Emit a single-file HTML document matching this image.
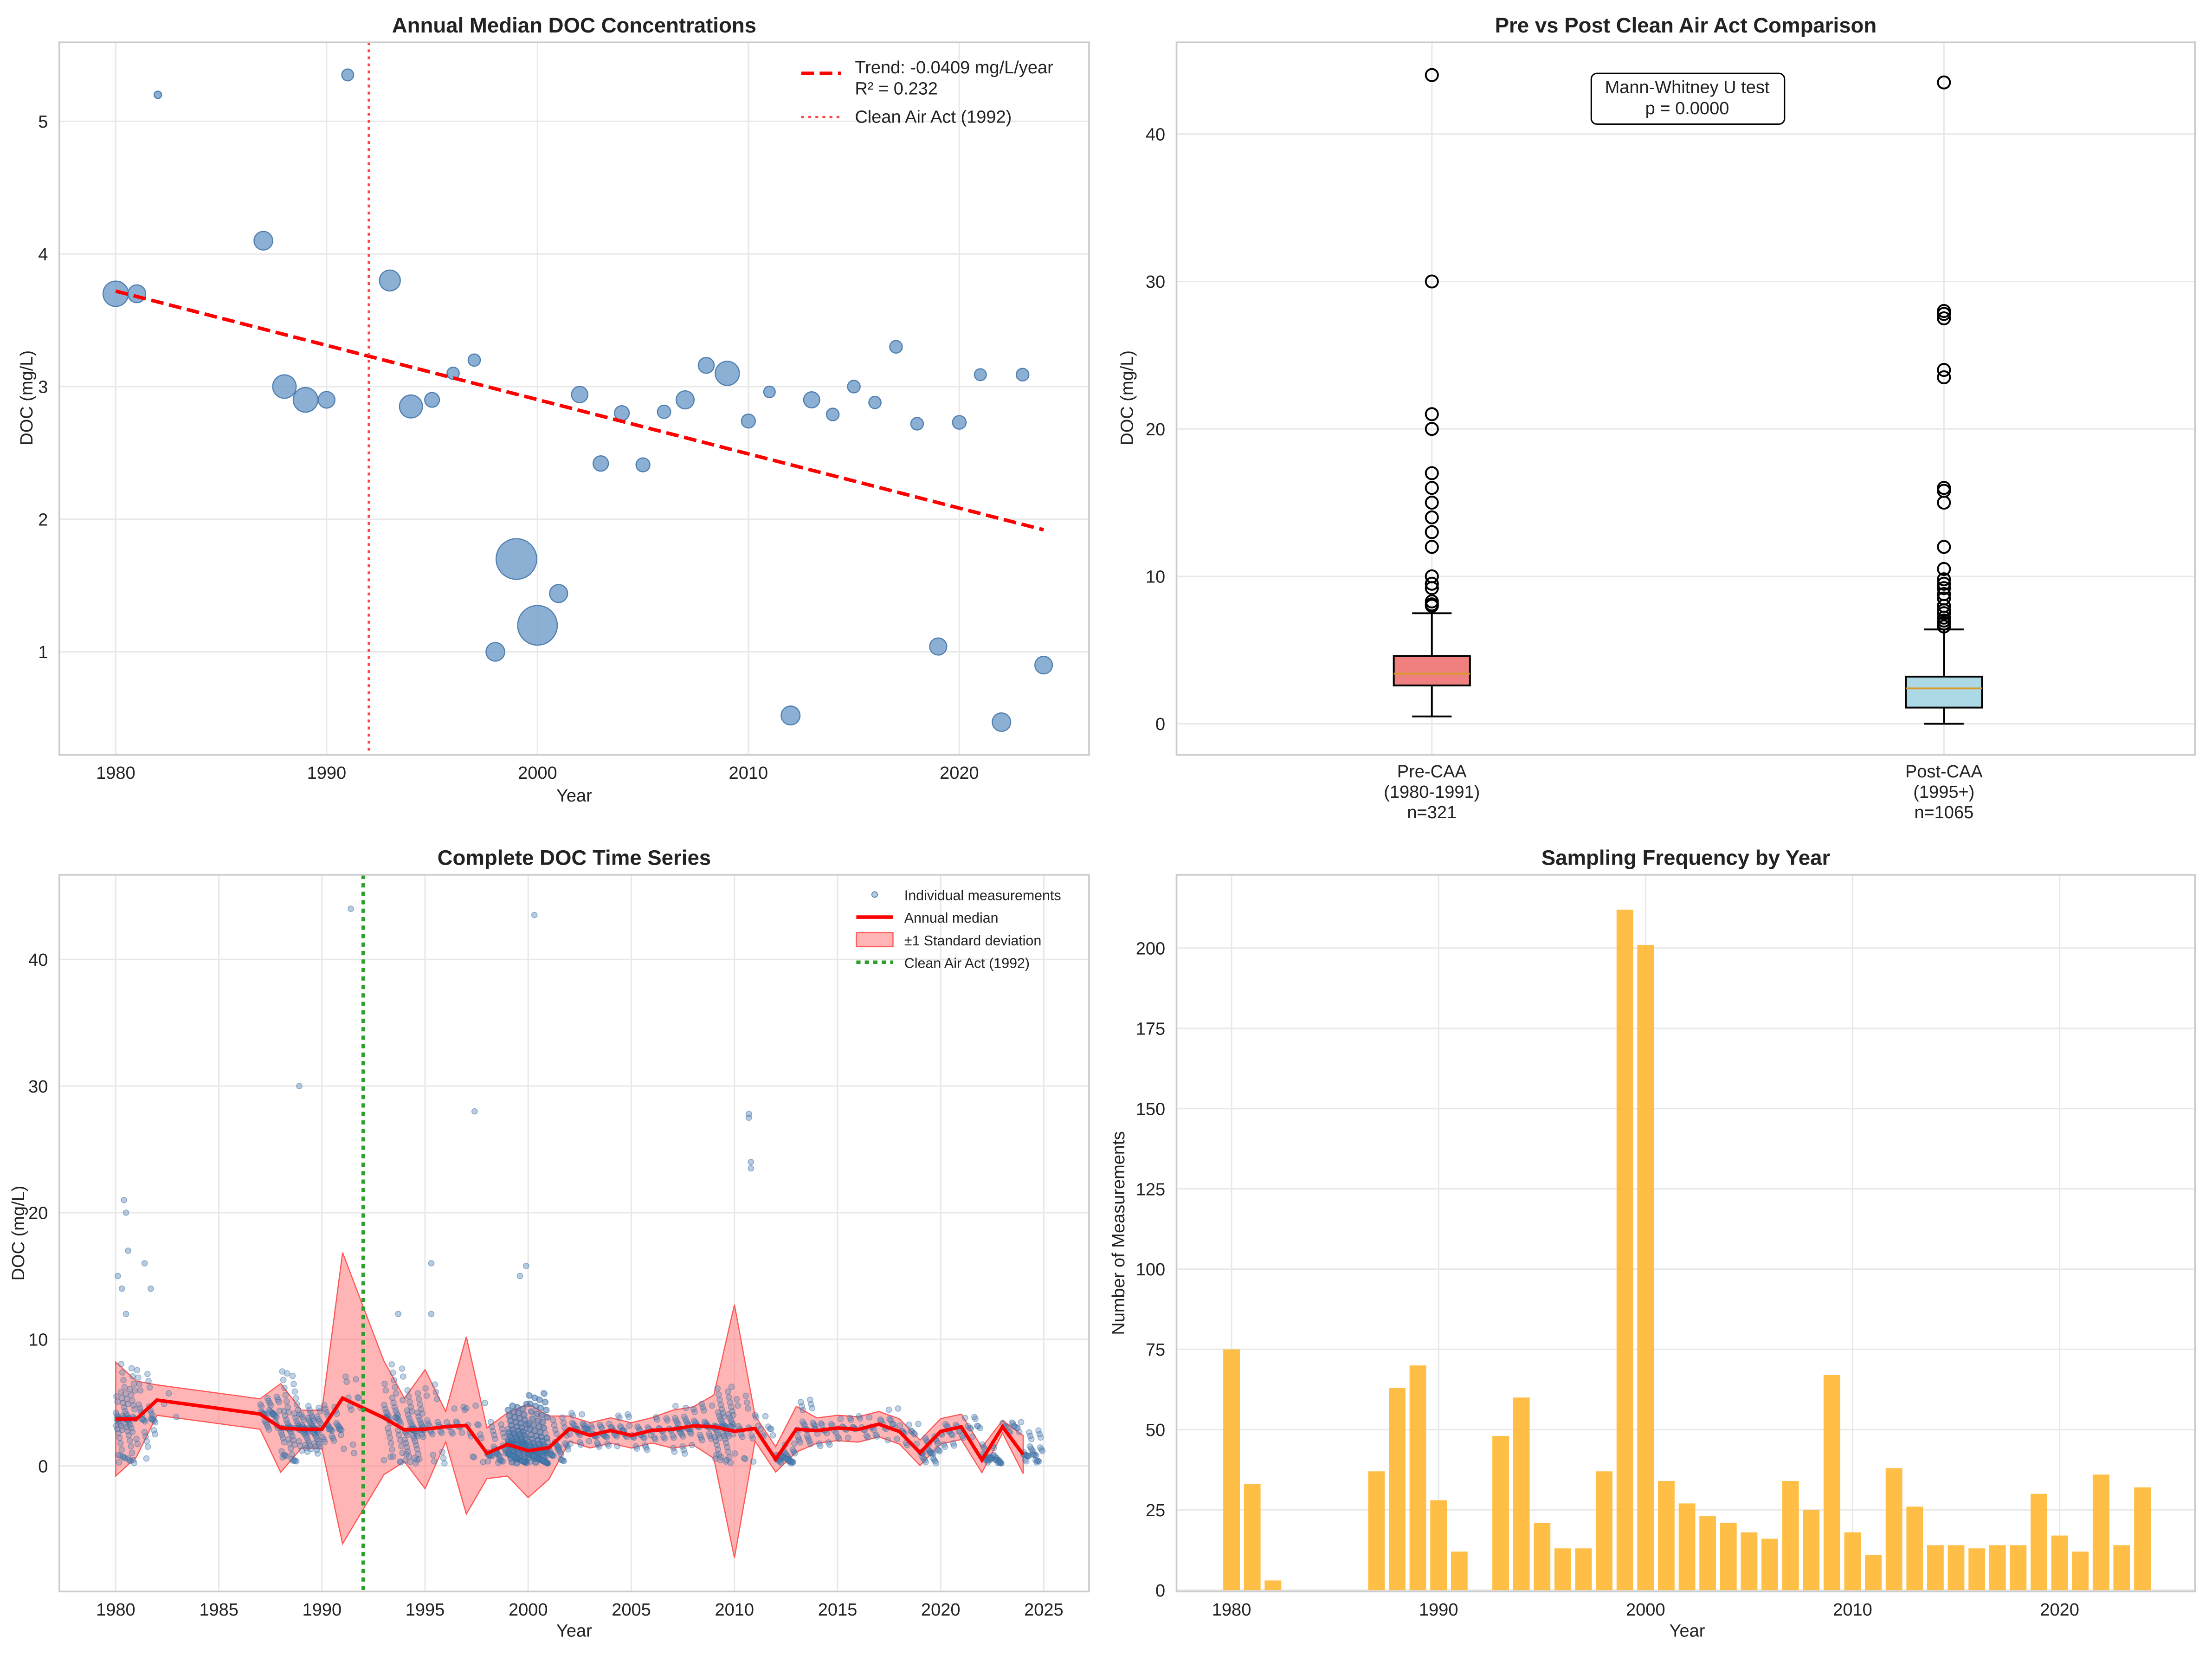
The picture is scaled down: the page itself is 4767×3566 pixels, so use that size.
<!DOCTYPE html>
<html><head><meta charset="utf-8"><style>
html,body{margin:0;padding:0;background:#fff;}
svg{display:block;font-family:"Liberation Sans",sans-serif;}
</style></head><body>
<svg id="fig" width="4767" height="3566" viewBox="0 0 1568 1173" xmlns="http://www.w3.org/2000/svg">
<rect width="1568" height="1173" fill="#fff"/>
</svg>
<script>
// ---- data ----
const years=[1980,1981,1982,1987,1988,1989,1990,1991,1993,1994,1995,1996,1997,1998,1999,2000,2001,2002,2003,2004,2005,2006,2007,2008,2009,2010,2011,2012,2013,2014,2015,2016,2017,2018,2019,2020,2021,2022,2023,2024];
const medians=[3.7,3.7,5.2,4.1,3.0,2.9,2.9,5.35,3.8,2.85,2.9,3.1,3.2,1.0,1.7,1.2,1.44,2.94,2.42,2.8,2.41,2.81,2.9,3.16,3.1,2.74,2.96,0.52,2.9,2.79,3.0,2.88,3.3,2.72,1.04,2.73,3.09,0.47,3.09,0.9];
const counts=[75,33,3,37,63,70,28,12,48,60,21,13,13,37,212,201,34,27,23,21,18,16,34,25,67,18,11,38,26,14,14,13,14,14,30,17,12,36,14,32];
const stds=[4.5,3,1.2,1.2,3.5,1.5,1.5,11.5,4.5,2.5,4.7,1.2,7,2,2.5,3.7,2.5,1,1,1,1,1,1.5,1.5,2.5,10,1,1,1.8,1,1,1,1,1,1,1,1,1,0.5,1.5];
const trend=[3.72,1.92]; // at 1980 and 2024
const preStats={lo:0.5,q1:2.6,med:3.4,q3:4.6,hi:7.5};
const postStats={lo:0,q1:1.1,med:2.4,q3:3.2,hi:6.4};
const preOut=[44,30,21,20,17,16,15,14,13,12,10,9.5,9.2,8.3,8.1,8];
const postOut=[43.5,28,27.8,27.5,24,23.5,16,15.8,15,12,10.5,9.8,9.5,9.2,8.8,8.5,8,7.7,7.5,7.2,7,6.8,6.6];
const extremeX=[1991.4,1988.9,2000.3,1997.4,2010.7,2010.7,2010.8,2010.8,1980.4,1980.5,1980.6,1981.4,1999.6,1999.9,1980.1,1980.3,1980.5,1981.7,1993.7,1995.3,1995.3];
const extremeY=[44,30,43.5,28,27.8,27.5,24,23.5,21,20,17,16,15,15.8,15,14,12,14,12,16,12];
const yTicks1=[1,2,3,4,5],xTicks1=[1980,1990,2000,2010,2020];
const yTicks2=[0,10,20,30,40];
const yTicks3=[0,10,20,30,40],xTicks3=[1980,1985,1990,1995,2000,2005,2010,2015,2020,2025];
const yTicks4=[0,25,50,75,100,125,150,175,200],xTicks4=[1980,1990,2000,2010,2020];

const NS="http://www.w3.org/2000/svg",svg=document.getElementById('fig');
function el(tag,attrs,parent,text){const e=document.createElementNS(NS,tag);for(const k in attrs)e.setAttribute(k,attrs[k]);if(text!==undefined)e.textContent=text;(parent||svg).appendChild(e);return e;}
function panel(name,x0,y0,x1,y1,title){
  const g=el('g',{});
  
  
  const t=el('text',{x:(x0+x1)/2,y:y0-7,'text-anchor':'middle','font-size':15,'font-weight':'bold',fill:'#222'},g,title);
  
  
  return g;
}
function frame(g,x0,y0,x1,y1){const r=el('rect',{x:x0,y:y0,width:x1-x0,height:y1-y0,fill:'none',stroke:'#ccc','stroke-width':1.2},g);}
function gridX(g,ticks,sx,y0,y1,lbl){ticks.forEach(t=>{el('line',{x1:sx(t),x2:sx(t),y1:y0,y2:y1,stroke:'#e8e8e8'},g);if(lbl){const e=el('text',{x:sx(t),y:y1+17,'text-anchor':'middle','font-size':12.5,fill:'#222'},g,t);}});}
function gridY(g,ticks,sy,x0,x1){ticks.forEach(t=>{el('line',{x1:x0,x2:x1,y1:sy(t),y2:sy(t),stroke:'#e8e8e8'},g);const e=el('text',{x:x0-8,y:sy(t)+4.5,'text-anchor':'end','font-size':12.5,fill:'#222'},g,t);});}
function ylabel(g,x,y,txt){const e=el('text',{x:x,y:y,'text-anchor':'middle','font-size':12.5,fill:'#222',transform:`rotate(-90 ${x} ${y})`},g,txt);}
function xlabel(g,x,y,txt){const e=el('text',{x:x,y:y,'text-anchor':'middle','font-size':12.5,fill:'#222'},g,txt);}

// ---- Panel 1 ----
{const X0=42,Y0=30,X1=772,Y1=535;
const sx=v=>82+(v-1980)*14.95, sy=v=>462-(v-1)*94;
const g=panel('annual-median-panel',X0,Y0,X1,Y1,'Annual Median DOC Concentrations');
gridX(g,xTicks1,sx,Y0,Y1,true);gridY(g,yTicks1,sy,X0,X1);
years.forEach((y,i)=>{const c=el('circle',{cx:sx(y),cy:sy(medians[i]),r:Math.sqrt(counts[i])*0.92+1,fill:'#6f9cc9','fill-opacity':0.8,stroke:'#4f7fb0','stroke-width':0.8},g);});
const tl=el('line',{x1:sx(1980),y1:sy(trend[0]),x2:sx(2024),y2:sy(trend[1]),stroke:'#f00','stroke-width':2.5,'stroke-dasharray':'9,4'},g);
const vl=el('line',{x1:sx(1992),x2:sx(1992),y1:Y0,y2:Y1,stroke:'#f44','stroke-width':1.6,'stroke-dasharray':'2,3'},g);
frame(g,X0,Y0,X1,Y1);
const lg=el('g',{},g);
el('line',{x1:568,x2:596,y1:52,y2:52,stroke:'#f00','stroke-width':2.5,'stroke-dasharray':'9,4'},lg);
el('text',{x:606,y:52,'font-size':12.5,fill:'#222'},lg,'Trend: -0.0409 mg/L/year');
el('text',{x:606,y:67,'font-size':12.5,fill:'#222'},lg,'R² = 0.232');
el('line',{x1:568,x2:596,y1:83,y2:83,stroke:'#f44','stroke-width':1.6,'stroke-dasharray':'2,3'},lg);
el('text',{x:606,y:87,'font-size':12.5,fill:'#222'},lg,'Clean Air Act (1992)');
ylabel(g,23,282,'DOC (mg/L)');xlabel(g,407,568,'Year');}

// ---- Panel 2 ----
{const X0=834,Y0=30,X1=1556,Y1=535;
const sy=v=>513-v*10.45;
const g=panel('boxplot-panel',X0,Y0,X1,Y1,'Pre vs Post Clean Air Act Comparison');
[1015,1378].forEach(x=>el('line',{x1:x,x2:x,y1:Y0,y2:Y1,stroke:'#e8e8e8'},g));
gridY(g,yTicks2,sy,X0,X1);
function box(cx,s,out,fill,name){const b=el('g',{},g);
 el('line',{x1:cx,x2:cx,y1:sy(s.lo),y2:sy(s.q1),stroke:'#000','stroke-width':1.3},b);
 el('line',{x1:cx,x2:cx,y1:sy(s.q3),y2:sy(s.hi),stroke:'#000','stroke-width':1.3},b);
 el('line',{x1:cx-14,x2:cx+14,y1:sy(s.lo),y2:sy(s.lo),stroke:'#000','stroke-width':1.3},b);
 el('line',{x1:cx-14,x2:cx+14,y1:sy(s.hi),y2:sy(s.hi),stroke:'#000','stroke-width':1.3},b);
 el('rect',{x:cx-27,y:sy(s.q3),width:54,height:sy(s.q1)-sy(s.q3),fill:fill,stroke:'#000','stroke-width':1.3},b);
 el('line',{x1:cx-27,x2:cx+27,y1:sy(s.med),y2:sy(s.med),stroke:'#d89a2a','stroke-width':1.3},b);
 out.forEach(v=>el('circle',{cx:cx,cy:sy(v),r:4.3,fill:'none',stroke:'#000','stroke-width':1.3},b));}
box(1015,preStats,preOut,'#f08080','pre-caa-box');box(1378,postStats,postOut,'#add8e6','post-caa-box');
frame(g,X0,Y0,X1,Y1);
[['Pre-CAA','(1980-1991)','n=321',1015],['Post-CAA','(1995+)','n=1065',1378]].forEach(a=>{a.slice(0,3).forEach((t,k)=>{const e=el('text',{x:a[3],y:551+k*14.5,'text-anchor':'middle','font-size':12.5,fill:'#222'},g,t);});});
const ab=el('g',{},g);
el('rect',{x:1128,y:52,width:137,height:36,rx:4,fill:'#fff',stroke:'#000','stroke-width':1},ab);
el('text',{x:1196,y:66,'text-anchor':'middle','font-size':12.5,fill:'#222'},ab,'Mann-Whitney U test');
el('text',{x:1196,y:81,'text-anchor':'middle','font-size':12.5,fill:'#222'},ab,'p = 0.0000');
ylabel(g,803,282,'DOC (mg/L)');}

// ---- Panel 3 ----
{const X0=42,Y0=620,X1=772,Y1=1128;
const sx=v=>82+(v-1980)*14.62, sy=v=>1039-v*8.975;
const g=panel('time-series-panel',X0,Y0,X1,Y1,'Complete DOC Time Series');
gridX(g,xTicks3,sx,Y0,Y1,true);gridY(g,yTicks3,sy,X0,X1);
let top=[],bot=[];years.forEach((y,i)=>{top.push(sx(y)+','+sy(medians[i]+stds[i]));bot.unshift(sx(y)+','+sy(medians[i]-stds[i]));});
const band=el('polygon',{points:top.concat(bot).join(' '),fill:'#ff6b6b','fill-opacity':0.5,stroke:'#f55','stroke-width':0.8},g);
const pts=el('g',{},g);
let k=0;years.forEach((y,i)=>{const spread=Math.min(stds[i],3.5);for(let j=0;j<counts[i];j++){k++;const fx=(k*0.618034)%1,fy=((k*0.7548777)%1)*2-1;
 let v=medians[i]+fy*Math.abs(fy)*spread*1.3; if(v<0.2) v=0.2+((k*0.381966)%1)*0.8;
 el('circle',{cx:sx(y+fx*0.95),cy:sy(v),r:2,fill:'#4a7fb5','fill-opacity':0.35,stroke:'#3a6a9a','stroke-opacity':0.45,'stroke-width':0.5},pts);}});
extremeX.forEach((x,i)=>el('circle',{cx:sx(x),cy:sy(extremeY[i]),r:2,fill:'#4a7fb5','fill-opacity':0.4,stroke:'#3a6a9a','stroke-opacity':0.5,'stroke-width':0.5},pts));
const ml=el('polyline',{points:years.map((y,i)=>sx(y)+','+sy(medians[i])).join(' '),fill:'none',stroke:'#f00','stroke-width':2.5},g);
const gl=el('line',{x1:sx(1992),x2:sx(1992),y1:Y0,y2:Y1,stroke:'#2ca02c','stroke-width':2.5,'stroke-dasharray':'3,3'},g);
frame(g,X0,Y0,X1,Y1);
const lg=el('g',{},g);
el('circle',{cx:620,cy:634,r:2,fill:'#4a7fb5','fill-opacity':0.4,stroke:'#3a6a9a','stroke-width':0.5},lg);
el('text',{x:641,y:638,'font-size':10,fill:'#222'},lg,'Individual measurements');
el('line',{x1:607,x2:633,y1:650,y2:650,stroke:'#f00','stroke-width':2.5},lg);
el('text',{x:641,y:654,'font-size':10,fill:'#222'},lg,'Annual median');
el('rect',{x:607,y:661,width:26,height:10,fill:'#ff6b6b','fill-opacity':0.5,stroke:'#f55','stroke-width':0.8},lg);
el('text',{x:641,y:670,'font-size':10,fill:'#222'},lg,'±1 Standard deviation');
el('line',{x1:607,x2:633,y1:682,y2:682,stroke:'#2ca02c','stroke-width':2.5,'stroke-dasharray':'3,3'},lg);
el('text',{x:641,y:686,'font-size':10,fill:'#222'},lg,'Clean Air Act (1992)');
ylabel(g,17,874,'DOC (mg/L)');xlabel(g,407,1160,'Year');}

// ---- Panel 4 ----
{const X0=834,Y0=620,X1=1556,Y1=1128;
const sx=v=>873+(v-1980)*14.675, sy=v=>1127-v*2.275;
const g=panel('sampling-frequency-panel',X0,Y0,X1,Y1,'Sampling Frequency by Year');
gridX(g,xTicks4,sx,Y0,Y1,true);gridY(g,yTicks4,sy,X0,X1);
years.forEach((y,i)=>{const b=el('rect',{x:sx(y)-5.9,y:sy(counts[i]),width:11.8,height:sy(0)-sy(counts[i]),fill:'#ffb833','fill-opacity':0.9},g);});
frame(g,X0,Y0,X1,Y1);
ylabel(g,797,874,'Number of Measurements');xlabel(g,1196,1160,'Year');}
</script>
</body></html>
